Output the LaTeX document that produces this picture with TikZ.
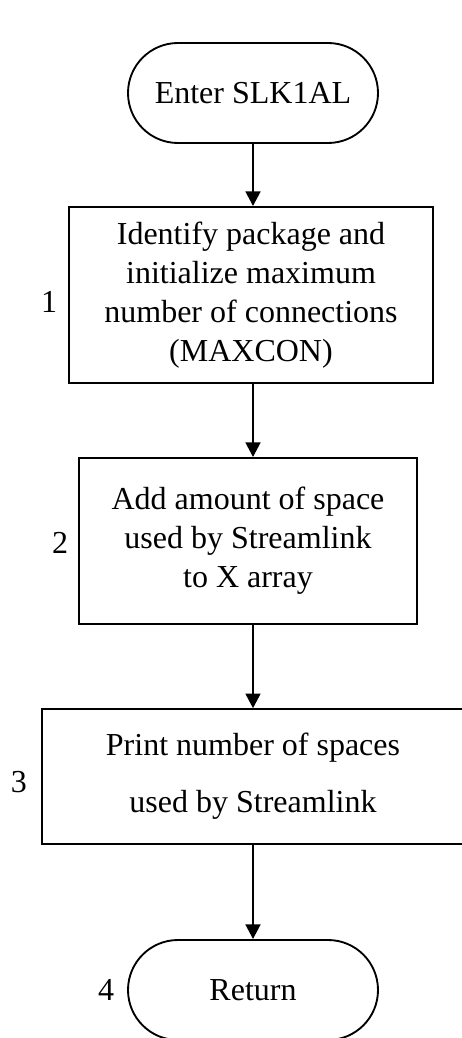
\documentclass[tikz,border=0pt]{standalone}
\usepackage{fontspec}
\setmainfont{Liberation Serif}
\usetikzlibrary{shapes.misc,arrows.meta}
\begin{document}
\begin{tikzpicture}[x=0.75pt,y=-0.75pt,
  txt/.style={font=\fontsize{24}{29.3}\selectfont},
  terminal/.style={txt,draw,line width=1.4pt,rounded rectangle,
    minimum width=187.5pt,minimum height=75pt,inner sep=0pt},
  procbox/.style={txt,draw,line width=1.4pt,rectangle,align=center,inner sep=0pt},
  steplabel/.style={txt,inner sep=0pt},
  flow/.style={line width=2pt,-{Triangle[length=11pt,width=11pt]}}]
\useasboundingbox (0,0) rectangle (461,1038);

% start and end terminals
\node[terminal] (enter) at (253,93) {Enter SLK1AL};
\node[terminal] (ret) at (253,990) {Return};

% processing boxes
\node[procbox,minimum width=273pt,minimum height=132pt] (b1) at (251,295)
  {Identify package and\\initialize maximum\\number of connections\\(MAXCON)};
\node[procbox,minimum width=253.5pt,minimum height=124.5pt] (b2) at (248,541)
  {Add amount of space\\used by Streamlink\\to X array};
\node[procbox,minimum width=317pt,minimum height=101pt,
  font=\fontsize{24}{42.7}\selectfont] (b3) at (253,776.5)
  {Print number of spaces\\used by Streamlink};

% step numbers
\node[steplabel] (n1) at (49,302) {1};
\node[steplabel] (n2) at (60,543) {2};
\node[steplabel] (n3) at (19,782) {3};
\node[steplabel] (n4) at (106,990) {4};

% connectors
\draw[flow] (enter.south) -- (enter.south |- b1.north);
\draw[flow] (b1.south -| enter.south) -- (enter.south |- b2.north);
\draw[flow] (b2.south -| enter.south) -- (enter.south |- b3.north);
\draw[flow] (b3.south -| enter.south) -- (ret.north);
\end{tikzpicture}
\end{document}
